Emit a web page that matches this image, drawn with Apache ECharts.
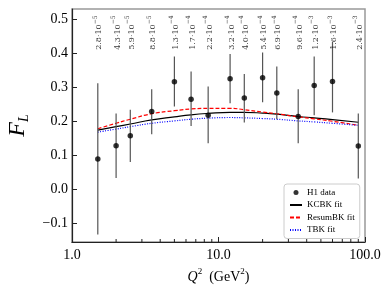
<!DOCTYPE html>
<html><head><meta charset="utf-8">
<script src="https://cdn.jsdelivr.net/npm/echarts@6/dist/echarts.min.js"></script>
<style>html,body{margin:0;padding:0;background:#fff}#c{width:392px;height:294px}</style>
</head><body><div id="c"></div>
<script>
// ---- data ----
const q2 = [1.5, 2, 2.5, 3.5, 5, 6.5, 8.5, 12, 15, 20, 25, 35, 45, 60, 90];
const xBjMant = ['2.8','4.3','5.9','8.8','1.3','1.7','2.2','3.2','4.0','5.4','6.9','9.6','1.2','1.6','2.4'];
const xBjExp = ['−5','−5','−5','−5','−4','−4','−4','−4','−4','−4','−4','−4','−3','−3','−3'];
const h1FL = [0.089, 0.128, 0.157, 0.229, 0.316, 0.265, 0.218, 0.325, 0.268, 0.328, 0.283, 0.214, 0.305, 0.317, 0.127];
const h1Lo = [-0.133, 0.033, 0.080, 0.162, 0.243, 0.186, 0.135, 0.253, 0.196, 0.256, 0.206, 0.135, 0.218, 0.226, 0.032];
const h1Hi = [0.312, 0.223, 0.234, 0.294, 0.390, 0.346, 0.302, 0.398, 0.339, 0.402, 0.361, 0.294, 0.390, 0.433, 0.223];
const kcbk = [0.174, 0.184, 0.192, 0.204, 0.213, 0.219, 0.223, 0.226, 0.226, 0.224, 0.221, 0.214, 0.210, 0.205, 0.197];
const resumbk = [0.178, 0.194, 0.206, 0.222, 0.231, 0.236, 0.238, 0.238, 0.234, 0.227, 0.222, 0.213, 0.207, 0.200, 0.188];
const tbk = [0.168, 0.177, 0.184, 0.194, 0.201, 0.206, 0.209, 0.211, 0.210, 0.208, 0.206, 0.201, 0.198, 0.194, 0.188];
const xMinorTicks = [2,3,4,5,6,7,8,9,20,30,40,50,60,70,80,90];
const annotY = 0.41;
const yMin = -0.155, yMax = 0.53;

const serif = 'Liberation Serif';
const chart = echarts.init(document.getElementById('c'), null, {renderer: 'canvas'});
const pair = (a) => q2.map((x, i) => [x, a[i]]);
const hideSym = {opacity: 0};

chart.setOption({
  animation: false,
  textStyle: {fontFamily: serif},
  grid: {left: 72, right: 27, top: 9, bottom: 52, outerBoundsMode: 'none', containLabel: false,
    show: true, borderColor: '#999', borderWidth: 1.5, backgroundColor: 'transparent'},
  legend: {
    orient: 'vertical', left: 284, top: 184, padding: [4, 5, 4, 5], itemGap: 3.5,
    itemWidth: 12, itemHeight: 5,
    backgroundColor: '#fff', borderColor: '#ccc', borderWidth: 1, borderRadius: 3,
    textStyle: {fontFamily: serif, fontSize: 9, color: '#000'},
    data: [
      {name: 'H1 data', icon: 'circle'},
      {name: 'KCBK fit', itemStyle: hideSym},
      {name: 'ResumBK fit', itemStyle: hideSym},
      {name: 'TBK fit', itemStyle: hideSym}
    ]
  },
  xAxis: {
    type: 'log', logBase: 10, min: 1, max: 100,
    axisLine: {show: true, onZero: false, lineStyle: {color: '#222', width: 1.2}},
    axisTick: {show: true, inside: true, length: 5, lineStyle: {color: '#222'}},
    splitLine: {show: false},
    axisLabel: {fontFamily: serif, fontSize: 14, color: '#000', margin: 6,
      formatter: v => Number(v).toFixed(1)},
    name: '{i|Q}{s|2}{n|  (GeV}{s|2}{n|)}', nameLocation: 'middle', nameGap: 13,
    nameTextStyle: {rich: {
      i: {fontFamily: serif, fontStyle: 'italic', fontSize: 14, color: '#000', verticalAlign: 'bottom', lineHeight: 17},
      s: {fontFamily: serif, fontSize: 9, color: '#000', verticalAlign: 'top', lineHeight: 17},
      n: {fontFamily: serif, fontSize: 14, color: '#000', verticalAlign: 'bottom', lineHeight: 17}
    }}
  },
  yAxis: {
    type: 'value', min: yMin, max: yMax, splitNumber: 7,
    axisLine: {show: true, onZero: false, lineStyle: {color: '#222', width: 1.2}},
    axisTick: {show: true, inside: true, length: 5, lineStyle: {color: '#222'}},
    splitLine: {show: false},
    axisLabel: {fontFamily: serif, fontSize: 14, color: '#000', margin: 4,
      showMinLabel: false, showMaxLabel: false,
      formatter: v => Math.abs(v * 10 - Math.round(v * 10)) > 1e-6 ? '' : (v < -1e-9 ? '−' : '') + Math.abs(v).toFixed(1)},
    name: '{F|F}{L|L}', nameLocation: 'middle', nameRotate: 90, nameGap: 30,
    nameTextStyle: {rich: {
      F: {fontFamily: serif, fontStyle: 'italic', fontSize: 24, color: '#000', verticalAlign: 'top', lineHeight: 26},
      L: {fontFamily: serif, fontStyle: 'italic', fontSize: 14, color: '#000', verticalAlign: 'bottom', lineHeight: 26}
    }}
  },
  series: [
    {
      name: 'minor', type: 'custom', silent: true, z: 3,
      data: xMinorTicks.map(v => [v, yMin]),
      renderItem: (params, api) => {
        const p = api.coord([api.value(0), api.value(1)]);
        return {type: 'line', shape: {x1: p[0], y1: p[1], x2: p[0], y2: p[1] - 3}, style: {stroke: '#222', lineWidth: 1}};
      }
    },
    {
      name: 'KCBK fit', type: 'line', data: pair(kcbk), smooth: true, symbol: 'none', z: 4,
      lineStyle: {color: '#000', width: 1.2}, itemStyle: {color: '#000'}
    },
    {
      name: 'ResumBK fit', type: 'line', data: pair(resumbk), smooth: true, symbol: 'none', z: 4,
      lineStyle: {color: '#f00', width: 1.2, type: [4, 2]}, itemStyle: {color: '#f00'}
    },
    {
      name: 'TBK fit', type: 'line', data: pair(tbk), smooth: true, symbol: 'none', z: 4,
      lineStyle: {color: '#00f', width: 1.2, type: [1, 1.5]}, itemStyle: {color: '#00f'}
    },
    {
      name: 'errbars', type: 'custom', silent: true, z: 5,
      data: q2.map((x, i) => [x, h1Lo[i], h1Hi[i]]),
      renderItem: (params, api) => {
        const a = api.coord([api.value(0), api.value(1)]);
        const b = api.coord([api.value(0), api.value(2)]);
        return {type: 'line', shape: {x1: a[0], y1: a[1], x2: b[0], y2: b[1]}, style: {stroke: '#555', lineWidth: 1.2}};
      }
    },
    {
      name: 'H1 data', type: 'scatter', data: pair(h1FL), symbol: 'circle', symbolSize: 5.5, z: 6,
      itemStyle: {color: '#000'}
    },
    {
      name: 'annot', type: 'scatter', silent: true, symbolSize: 0, z: 6,
      data: q2.map((x, i) => [x, annotY]),
      label: {
        show: true, position: [0, 0], rotate: 90, align: 'left', verticalAlign: 'middle',
        formatter: p => '{m|' + xBjMant[p.dataIndex] + '·10}{e|' + xBjExp[p.dataIndex] + '}',
        rich: {
          m: {fontFamily: 'DejaVu Serif', fontSize: 8, color: '#000', verticalAlign: 'bottom', lineHeight: 11},
          e: {fontFamily: 'DejaVu Serif', fontSize: 6, color: '#000', verticalAlign: 'top', lineHeight: 11}
        }
      }
    }
  ]
});
</script></body></html>
